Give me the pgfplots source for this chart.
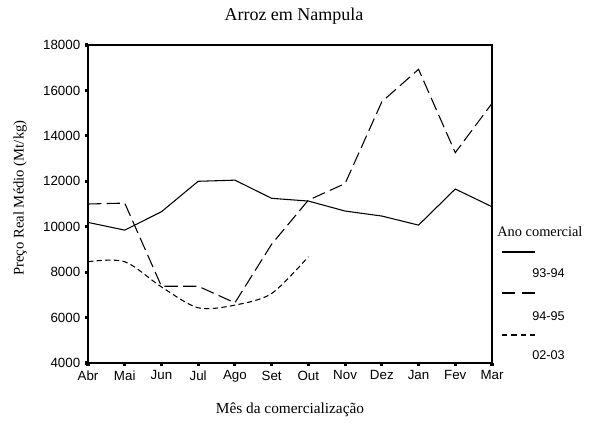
\documentclass[border=0pt]{standalone}
\usepackage{fontspec}
\setmainfont{Liberation Serif}
\setsansfont{Liberation Sans}
\usepackage{pgfplots}
\pgfplotsset{compat=1.18}
\begin{document}
\begin{tikzpicture}
\useasboundingbox (-66pt,-50.25pt) rectangle (384pt,272.25pt);
\begin{axis}[
  at={(0,0)}, anchor=south west,
  scale only axis, width=303pt, height=238.5pt,
  xmin=0, xmax=11, ymin=4000, ymax=18000,
  xtick={0,...,11},
  xticklabels={Abr,Mai,Jun,Jul,Ago,Set,Out,Nov,Dez,Jan,Fev,Mar},
  ytick={4000,6000,8000,10000,12000,14000,16000,18000},
  scaled y ticks=false,
  /pgf/number format/1000 sep={},
  /pgf/number format/assume math mode=true,
  ticklabel style={font=\sffamily\fontsize{10}{12}\selectfont},
  tick pos=left, tick align=outside,
  major tick length=2.3pt,
  every tick/.style={line width=2.3pt, black},
  axis line style={line width=0.8pt},
  title={Arroz em Nampula},
  title style={font=\fontsize{13.5}{16}\selectfont, at={(axis description cs:0.5,1)}, anchor=center, yshift=15.75pt, xshift=3pt},
  xlabel={Mês da comercialização},
  xlabel style={font=\fontsize{11.5}{14}\selectfont, at={(axis description cs:0.5,0)}, anchor=center, yshift=-35pt},
  ylabel={Preço Real Médio (Mt/kg)},
  ylabel style={font=\fontsize{11}{13}\selectfont, at={(axis description cs:0,0.5)}, anchor=center, yshift=51pt, xshift=4.5pt},
]
\addplot[black, line width=0.8pt] coordinates {
(0,10190) (1,9850) (2,10660) (3,12000) (4,12050) (5,11250) (6,11130) (7,10690) (8,10470) (9,10070) (10,11660) (11,10880)};
\addplot[black, line width=0.8pt, dash pattern=on 10pt off 4pt] coordinates {
(0,11000) (1,11040) (2,7380) (3,7380) (4,6650) (5,9230) (6,11170) (7,11900) (8,15500) (9,16930) (10,13260) (11,15430)};
\addplot[black, line width=0.8pt, dash pattern=on 4pt off 2.5pt, smooth, tension=0.5] coordinates {
(0,8460) (1,8460) (2,7350) (3,6430) (4,6550) (5,7060) (6,8680)};
\end{axis}
\node[anchor=west, inner sep=0pt, font=\fontsize{10.8}{13}\selectfont] at (306.75pt,98.25pt) {Ano comercial};
\draw[black, line width=0.8pt] (310.5pt,83.25pt) -- (335.25pt,83.25pt);
\node[anchor=west, inner sep=0pt, font=\sffamily\fontsize{9.5}{12}\selectfont] at (333pt,67.5pt) {93-94};
\draw[black, line width=0.8pt, dash pattern=on 10pt off 5pt] (310.5pt,52.5pt) -- (335.25pt,52.5pt);
\node[anchor=west, inner sep=0pt, font=\sffamily\fontsize{9.5}{12}\selectfont] at (333pt,35.25pt) {94-95};
\draw[black, line width=0.8pt, dash pattern=on 4pt off 3pt] (310.5pt,21pt) -- (335.25pt,21pt);
\node[anchor=west, inner sep=0pt, font=\sffamily\fontsize{9.5}{12}\selectfont] at (333pt,6pt) {02-03};
\end{tikzpicture}
\end{document}
